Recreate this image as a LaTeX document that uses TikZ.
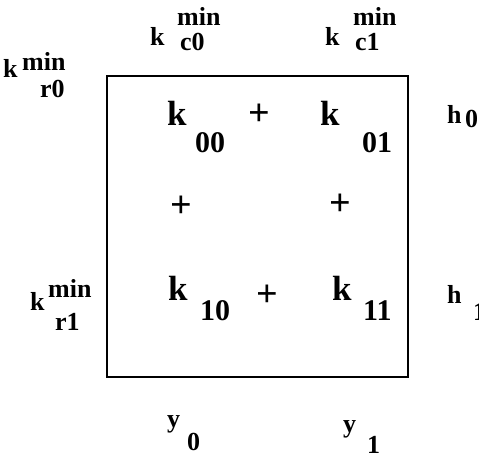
\documentclass[tikz,border=0pt]{standalone}
\usepackage{fontspec}
\setmainfont{Liberation Serif}
\begin{document}
\begin{tikzpicture}[x=1pt, y=-1pt,
  piece/.style={inner sep=0pt, anchor=base west},
  bigk/.style={piece, font=\fontsize{35}{35}\selectfont\bfseries},
  bigsub/.style={piece, font=\fontsize{30}{30}\selectfont\bfseries},
  lab/.style={piece, font=\fontsize{26}{26}\selectfont\bfseries},
  plus/.style={inner sep=0pt, font=\fontsize{38}{38}\selectfont\bfseries}
]
  \useasboundingbox (0,0) rectangle (479,459);

  % the block
  \draw[line width=1.3pt] (107,76) rectangle (408,377);

  % entries of the block
  \foreach \n/\x/\y/\t in {kzz/167/125/k, kzo/320/125/k, koz/168/300/k, koo/332/300/k} {
    \node[bigk] (\n) at (\x,\y) {\t};
  }
  \foreach \n/\x/\y/\t in {kzzs/195/152/00, kzos/362/152/01, kozs/200/320/10, koos/363/320/11} {
    \node[bigsub] (\n) at (\x,\y) {\t};
  }

  % plus signs
  \node[plus] (ptop) at (259,115) {+};
  \node[plus] (pleft) at (181,207) {+};
  \node[plus] (pright) at (340,205) {+};
  \node[plus] (pbot) at (267,296) {+};

  % labels round the block
  \foreach \n/\x/\y/\t in {kcz/150/45/k, kczm/177/25/min, kczs/180/50/c0,
                           kco/325/45/k, kcom/353/25/min, kcos/355/50/c1,
                           krz/3/77/k, krzm/22/70/min, krzs/40/97/r0,
                           kro/30/310/k, krom/48/297/min, kros/55/330/r1,
                           hz/447/123/h, hzs/465/127/0,
                           ho/447/303/h, hos/473/320/1,
                           yz/167/427/y, yzs/187/450/0,
                           yo/343/432/y, yos/367/453/1} {
    \node[lab] (\n) at (\x,\y) {\t};
  }
\end{tikzpicture}
\end{document}
